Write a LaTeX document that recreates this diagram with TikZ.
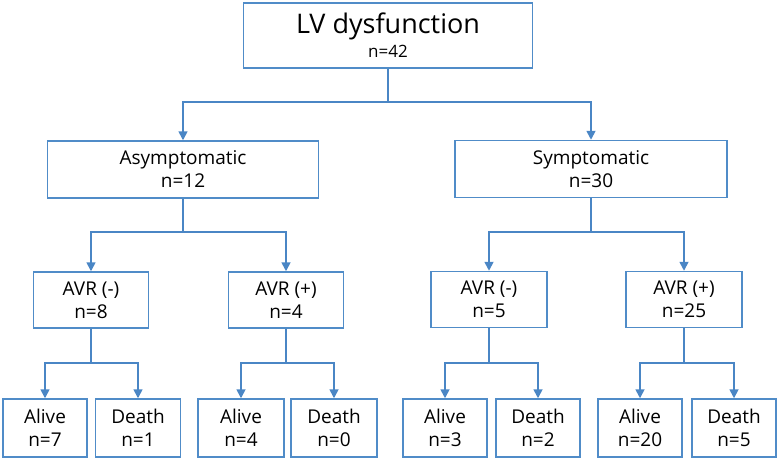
\documentclass[tikz,border=0pt]{standalone}
\usepackage{fontspec}
\setmainfont{Open Sans}
\usetikzlibrary{arrows.meta}
\definecolor{lineblue}{RGB}{74,134,197}
\definecolor{boxblue}{RGB}{80,140,200}
\begin{document}
\begin{tikzpicture}[x=1pt,y=-1pt,
  box/.style={draw=boxblue,line width=1.5pt,fill=white,inner sep=0pt,align=center,font=\fontsize{19}{23}\selectfont},
  conn/.style={draw=lineblue,line width=1.7pt},
  arr/.style={conn,-{Triangle[width=9pt,length=9pt]}}]
\useasboundingbox (0,0) rectangle (778,459);
\node[box,minimum width=289pt,minimum height=65pt] (top) at (388,35.5)
  {{\fontsize{27}{29}\selectfont LV dysfunction}\\[1pt]{\fontsize{17}{18}\selectfont n=42}};
\node[box,minimum width=271pt,minimum height=57pt] (asym) at (183,169.5) {Asymptomatic\\n=12};
\node[box,minimum width=272pt,minimum height=57pt] (sym) at (591,169) {Symptomatic\\n=30};
\node[box,minimum width=115pt,minimum height=56pt] (avr1) at (91,300) {AVR (-)\\n=8};
\node[box,minimum width=115pt,minimum height=56pt] (avr2) at (286,300) {AVR (+)\\n=4};
\node[box,minimum width=116pt,minimum height=56pt] (avr3) at (489,299.5) {AVR (-)\\n=5};
\node[box,minimum width=116pt,minimum height=56pt] (avr4) at (684,299.5) {AVR (+)\\n=25};
\node[box,minimum width=84pt,minimum height=58pt] (a1) at (45,428) {Alive\\n=7};
\node[box,minimum width=85pt,minimum height=58pt] (d1) at (138,428) {Death\\n=1};
\node[box,minimum width=86pt,minimum height=58pt] (a2) at (241,428) {Alive\\n=4};
\node[box,minimum width=86pt,minimum height=58pt] (d2) at (334,428) {Death\\n=0};
\node[box,minimum width=84pt,minimum height=58pt] (a3) at (445,428) {Alive\\n=3};
\node[box,minimum width=84pt,minimum height=58pt] (d3) at (538,428) {Death\\n=2};
\node[box,minimum width=84pt,minimum height=58pt] (a4) at (640,428) {Alive\\n=20};
\node[box,minimum width=84pt,minimum height=58pt] (d4) at (734,428) {Death\\n=5};
% junctions
\coordinate (j0) at (388,102);
\coordinate (j1) at (183,232);
\coordinate (j2) at (591,232);
\coordinate (j3) at (91,363);
\coordinate (j4) at (286,363);
\coordinate (j5) at (489,363);
\coordinate (j6) at (684,363);
\draw[conn] (top.south) -- (j0);
\draw[arr] (j0) -| (asym.north);
\draw[arr] (j0) -| (sym.north);
\draw[conn] (asym.south) -- (j1);
\draw[arr] (j1) -| (avr1.north);
\draw[arr] (j1) -| (avr2.north);
\draw[conn] (sym.south) -- (j2);
\draw[arr] (j2) -| (avr3.north);
\draw[arr] (j2) -| (avr4.north);
\draw[conn] (avr1.south) -- (j3);
\draw[arr] (j3) -| (a1.north);
\draw[arr] (j3) -| (d1.north);
\draw[conn] (avr2.south) -- (j4);
\draw[arr] (j4) -| (a2.north);
\draw[arr] (j4) -| (d2.north);
\draw[conn] (avr3.south) -- (j5);
\draw[arr] (j5) -| (a3.north);
\draw[arr] (j5) -| (d3.north);
\draw[conn] (avr4.south) -- (j6);
\draw[arr] (j6) -| (a4.north);
\draw[arr] (j6) -| (d4.north);
\end{tikzpicture}
\end{document}
